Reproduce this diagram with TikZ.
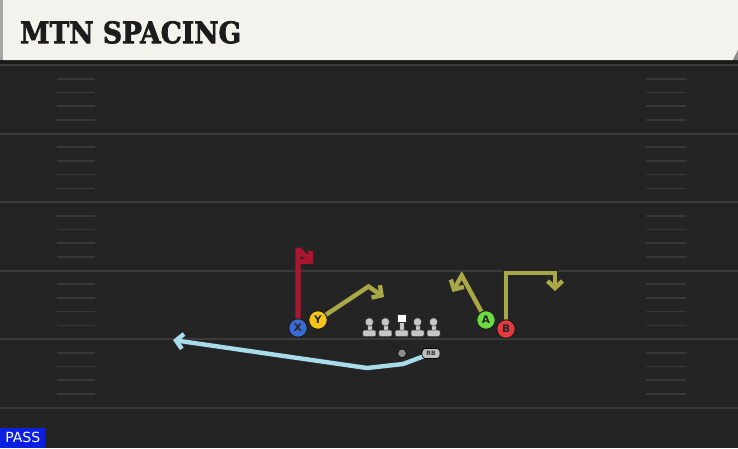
\documentclass[tikz,border=0pt]{standalone}
\usepackage{fontspec}
\usepackage{graphicx}
\setmainfont{DejaVu Sans}
\newfontfamily\titlefont[BoldFeatures={FakeBold=2.5}]{DejaVu Serif}
\usetikzlibrary{arrows.meta}
\pgfdeclarelayer{bg}
\pgfdeclarelayer{routes}
\pgfsetlayers{bg,routes,main}
\definecolor{fieldbg}{HTML}{242424}
\definecolor{yardc}{HTML}{3B3B3B}
\definecolor{hashc}{HTML}{383838}
\definecolor{cream}{HTML}{F4F2EC}
\definecolor{titlec}{HTML}{1C1C1C}
\definecolor{redroute}{HTML}{A8162F}
\definecolor{oliveroute}{HTML}{A9A847}
\definecolor{blueroute}{HTML}{A7DDEB}
\definecolor{xblue}{HTML}{3A6BD4}
\definecolor{yyellow}{HTML}{F5C518}
\definecolor{agreen}{HTML}{6CDB3F}
\definecolor{bred}{HTML}{E23A3F}
\definecolor{passblue}{HTML}{0B1FE0}
\definecolor{lmgrey}{HTML}{C6C6C6}
\begin{document}
\begin{tikzpicture}[x=1pt,y=-1pt,
  player/.style={circle, draw=black!90, line width=0.9pt, minimum size=18.5pt,
    inner sep=0pt, text=black!85, font=\bfseries\fontsize{10.5}{10.5}\selectfont},
  route/.style={line width=#1, line join=miter, miter limit=2.3, line cap=butt,
    -{Straight Barb[length=7pt,width=15pt]},
    preaction={draw=black!85, line width=#1+1.3pt}},
  route/.default=4.4pt,
  lmpart/.style={fill=lmgrey, draw=black!80, line width=0.5pt},
  lineman/.pic={
    \path[lmpart] (-2.5,0) rectangle (2.5,9);
    \path[lmpart, rounded corners=1.2pt] (-6.5,8) rectangle (6.5,14.5);
    \path[lmpart] (0,0) circle[radius=4.2];
  },
  centerman/.pic={
    \path[lmpart] (-2.5,0) rectangle (2.5,9);
    \path[lmpart, rounded corners=1.2pt] (-6.5,8) rectangle (6.5,14.5);
    \path[fill=white, draw=black!80, line width=0.5pt] (-4.2,-8) rectangle (4.2,0.3);
  }]
\useasboundingbox (0,0) rectangle (738,448);
\begin{pgfonlayer}{bg}
  % field
  \fill[fieldbg] (0,0) rectangle (738,448);
  % yard lines
  \foreach \k in {0,...,5}{
    \draw[yardc, line width=2pt] (0,{65+68.5*\k}) -- (738,{65+68.5*\k});
  }
  % hash marks
  \foreach \k in {0,...,4}{
    \foreach \j in {1,...,4}{
      \draw[hashc, line width=1.6pt] (57,{65+68.5*\k+13.7*\j}) -- (95,{65+68.5*\k+13.7*\j});
      \draw[hashc, line width=1.6pt] (646,{65+68.5*\k+13.7*\j}) -- (686,{65+68.5*\k+13.7*\j});
    }
  }
  % title bar
  \fill[black!90] (0,60) rectangle (738,64);
  \fill[cream] (3,0) -- (738,0) -- (738,50) -- (733,60) -- (3,60) -- cycle;
  \fill[black!35] (0,0) rectangle (3,60);
  \fill[black!45] (733,60) -- (738,50) -- (738,60) -- cycle;
\end{pgfonlayer}

\node[anchor=north west, inner sep=0pt, text=titlec] (title) at (20,21)
  {\resizebox{221pt}{22pt}{\titlefont\bfseries MTN SPACING}};

\node[fill=passblue, text=white, anchor=south west, minimum width=45pt,
  minimum height=20pt, inner sep=0pt, font=\fontsize{14}{14}\selectfont]
  (pass) at (0,448) {PASS};

% linemen
\pic (lt) at (369.3,322) {lineman};
\pic (lg) at (385.3,322) {lineman};
\pic (c)  at (401.7,322) {centerman};
\pic (rg) at (417.5,322) {lineman};
\pic (rt) at (433.5,322) {lineman};

% backs
\node[circle, fill=black!45, draw=black, line width=0.5pt, minimum size=8.5pt, inner sep=0pt] (ball) at (402,353.3) {};
\node[draw=black, line width=0.6pt, fill=black!25, rounded corners=3.5pt,
  minimum width=18pt, minimum height=10pt, inner sep=0pt, text=black!80,
  font=\bfseries\fontsize{6}{6}\selectfont] (rb) at (431,353.5) {RB};

% receivers
\node[player, fill=xblue]   (X) at (298,328) {X};
\node[player, fill=yyellow] (Y) at (318,320) {Y};
\node[player, fill=agreen]  (A) at (486,320) {A};
\node[player, fill=bred]    (B) at (506,329) {B};

% route waypoints
\coordinate (x1) at (298,249);
\coordinate (x2) at (313,263.5);
\coordinate (y1) at (368.5,286.5);
\coordinate (y2) at (384,297);
\coordinate (a1) at (461.7,275.5);
\coordinate (a2) at (452.5,292);
\coordinate (b1) at (506,273);
\coordinate (b2) at (555,273);
\coordinate (b3) at (555,291);
\coordinate (r1) at (403,364);
\coordinate (r2) at (367,368);
\coordinate (r3) at (173,340);

\begin{pgfonlayer}{routes}
  \draw[route=5.2pt, draw=redroute] (X.center) -- (x1) -- (x2);
  \draw[route, draw=oliveroute] (Y.center) -- (y1) -- (y2);
  \draw[route, draw=oliveroute] (A.center) -- (a1) -- (a2);
  \draw[route, draw=oliveroute] (B.center) -- (b1) -- (b2) -- (b3);
  \draw[route, draw=blueroute] (rb.center) -- (r1) -- (r2) -- (r3);
\end{pgfonlayer}
\end{tikzpicture}
\end{document}
